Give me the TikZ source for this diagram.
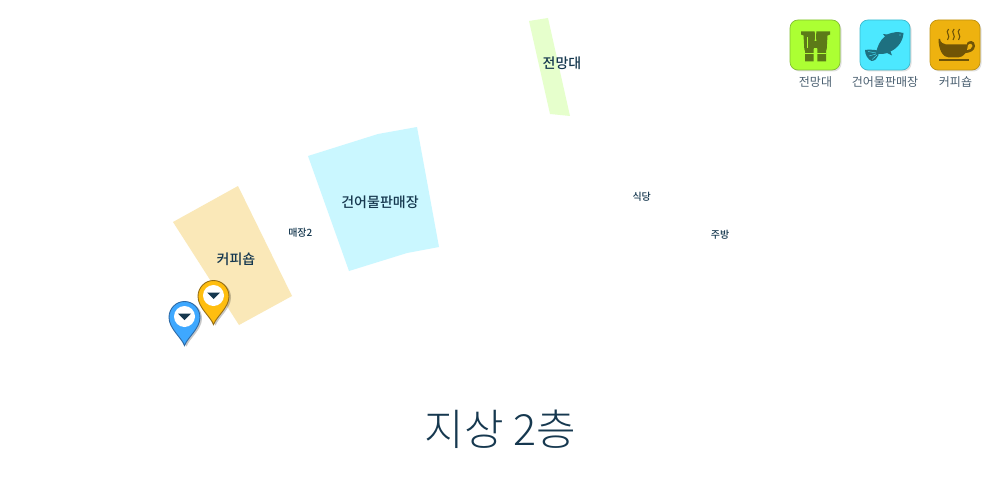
\documentclass[tikz,border=0pt]{standalone}
\usepackage{fontspec}
\setmainfont{Noto Sans CJK KR}
\newfontfamily\lightkr{Noto Sans CJK KR Light}
\newfontfamily\medkr{Noto Sans CJK KR Medium}
\usetikzlibrary{shadows,calc}
\definecolor{navy}{HTML}{16384F}
\definecolor{greyblue}{HTML}{4A5F70}
\definecolor{zcafe}{HTML}{FAE8B8}
\definecolor{zfish}{HTML}{CAF7FF}
\definecolor{zview}{HTML}{E6FFCC}
\definecolor{goldedge}{HTML}{966E14}
\definecolor{goldfill}{HTML}{FFBE0F}
\definecolor{blueedge}{HTML}{2D69A5}
\definecolor{bluefill}{HTML}{3EA8FF}
\definecolor{aedge}{HTML}{82BE32}
\definecolor{afill}{HTML}{ACFF33}
\definecolor{adark}{HTML}{5C7A18}
\definecolor{bedge}{HTML}{3CB9CD}
\definecolor{bfill}{HTML}{4CE8FF}
\definecolor{bdark}{HTML}{1E7080}
\definecolor{cedge}{HTML}{BE910F}
\definecolor{cfill}{HTML}{EEB20F}
\definecolor{cdark}{HTML}{705406}
\tikzset{
  bigroom/.style={font=\medkr\fontsize{14}{15}\selectfont,text=navy,inner sep=0pt},
  smallroom/.style={font=\medkr\fontsize{10}{11}\selectfont,text=navy,inner sep=0pt},
  legendtext/.style={font=\fontsize{12}{13}\selectfont,text=greyblue,inner sep=0pt},
  iconbox/.style={draw=#1,line width=.7pt,rounded corners=8pt,
    drop shadow={shadow xshift=1.5pt,shadow yshift=-1.5pt,fill=black,opacity=.12}},
  pinbody/.style={line width=.9pt,drop shadow={shadow xshift=2pt,shadow yshift=-1pt,fill=black,opacity=.22}},
}
\begin{document}
\begin{tikzpicture}[x=1pt,y=-1pt]
\useasboundingbox (0,0) rectangle (1000,500);
\fill[white] (0,0) rectangle (1000,500);
% zones
\fill[zcafe] (173,222) -- (238,186) -- (292,296) -- (239,325) -- cycle;
\fill[zfish] (308,156) -- (378,134) -- (417,127) -- (439,247) -- (407,253) -- (349,271) -- cycle;
\fill[zview] (529,21) -- (548,18) -- (570,116) -- (550,114) -- cycle;
% labels
\node[bigroom] (lblview) at (562,63) {전망대};
\node[bigroom] (lblfish) at (380,202.5) {건어물판매장};
\node[bigroom] (lblcafe) at (236,259.5) {커피숍};
\node[smallroom] (lblshop) at (300.3,232.5) {매장2};
\node[smallroom] (lbleat) at (641.7,196.5) {식당};
\node[smallroom] (lblkit) at (720,234.5) {주방};
\node[font=\lightkr\fontsize{43}{45}\selectfont,text=navy,inner sep=0pt] (title) at (500.5,429) {지상 2층};
% pins
\begin{scope}[shift={(213.5,324.5)}]
  \draw[pinbody,draw=goldedge,fill=goldfill] (0,0) .. controls (-3,-8) and (-15.5,-17) .. (-15.5,-28) .. controls (-15.5,-37) and (-8.5,-44) .. (0,-44) .. controls (8.5,-44) and (15.5,-37) .. (15.5,-28) .. controls (15.5,-17) and (3,-8) .. (0,0) -- cycle;
  \fill[white] (0,-29) circle (10.5);
  \fill[navy] (-6.5,-32) -- (6.5,-32) -- (0,-25.5) -- cycle;
\end{scope}
\begin{scope}[shift={(184.5,345.5)}]
  \draw[pinbody,draw=blueedge,fill=bluefill] (0,0) .. controls (-3,-8) and (-15.5,-17) .. (-15.5,-28) .. controls (-15.5,-37) and (-8.5,-44) .. (0,-44) .. controls (8.5,-44) and (15.5,-37) .. (15.5,-28) .. controls (15.5,-17) and (3,-8) .. (0,0) -- cycle;
  \fill[white] (0,-29) circle (10.5);
  \fill[navy] (-6.5,-32) -- (6.5,-32) -- (0,-25.5) -- cycle;
\end{scope}
% icon 1
\begin{scope}[shift={(790,20)}]
  \draw[iconbox=aedge,fill=afill] (0,0) rectangle (50,50);
  \fill[adark] (11,11.5) -- (24.7,11.5) -- (24.9,18) -- (23.6,30) -- (23.6,41.5) -- (15,41.5) -- (15,31) -- (14.3,29) -- (13.5,15.5) -- (11,14.5) -- cycle;
  \fill[adark] (40,11.5) -- (26.3,11.5) -- (26.1,18) -- (27.4,30) -- (27.4,41.5) -- (36,41.5) -- (36,31) -- (36.7,29) -- (37.5,15.5) -- (40,14.5) -- cycle;
  \fill[adark] (24,21) rectangle (27,28);
  \fill[afill] (17,17) rectangle (18.2,28);
  \fill[afill] (15,33.5) rectangle (24,34.3);
  \fill[afill] (27,33.5) rectangle (36,34.3);
\end{scope}
% icon 2
\begin{scope}[shift={(860,20)}]
  \draw[iconbox=bedge,fill=bfill] (0,0) rectangle (50,50);
  \fill[bdark] (43.5,13) .. controls (38,11.5) and (33,12) .. (27,14.5)
     -- (23,14) -- (25,16.5) .. controls (20,20) and (17,27) .. (16,33.5)
     .. controls (19,34.5) and (24,34) .. (27,33) -- (32,35.5) -- (30.5,31.5)
     .. controls (38,28) and (43,21) .. (43.5,13) -- cycle;
  \fill[bdark] (18,30.5) .. controls (13,29.5) and (8,29.5) .. (5,30)
     .. controls (5,35) and (8,39.5) .. (11.5,41) .. controls (15,41) and (17.5,38) .. (18.5,35) -- cycle;
  \draw[bfill,line width=.4pt] (16,33) -- (8,31.5) (16,34) -- (9,36) (17,35) -- (12,39.5);
  \fill[bfill] (40,15) circle (.6);
\end{scope}
% icon 3
\begin{scope}[shift={(930,20)}]
  \draw[iconbox=cedge,fill=cfill] (0,0) rectangle (50,50);
  \fill[cdark] (8.5,19) -- (10,19) .. controls (10.5,22.5) and (13,24) .. (16,24.5) -- (37,24.5) -- (37,23) .. controls (39,20) and (45,20) .. (45,26) .. controls (45,31) and (39,33) .. (35.5,33)
    .. controls (33,36) and (31,37.5) .. (28,37.5) -- (19,37.5) .. controls (13,37.5) and (8.5,30) .. (8.5,19) -- cycle;
  \fill[cfill] (38,25) .. controls (40,23) and (43,23.5) .. (42.5,26) .. controls (42,29) and (39,30) .. (37,30) -- cycle;
  \fill[cdark] (9,39.3) rectangle (38.5,41);
  \draw[cdark,line width=1.1pt] (18.5,9) .. controls (14.5,13) and (21.5,15) .. (17.5,20);
  \draw[cdark,line width=1.1pt] (24,9) .. controls (20,13) and (27,15) .. (23,20);
  \draw[cdark,line width=1.1pt] (29.5,9) .. controls (25.5,13) and (32.5,15) .. (28.5,20);
\end{scope}
\node[legendtext] (leg1) at (815.5,82.5) {전망대};
\node[legendtext] (leg2) at (885,82.5) {건어물판매장};
\node[legendtext] (leg3) at (955.5,82.5) {커피숍};
\end{tikzpicture}
\end{document}
